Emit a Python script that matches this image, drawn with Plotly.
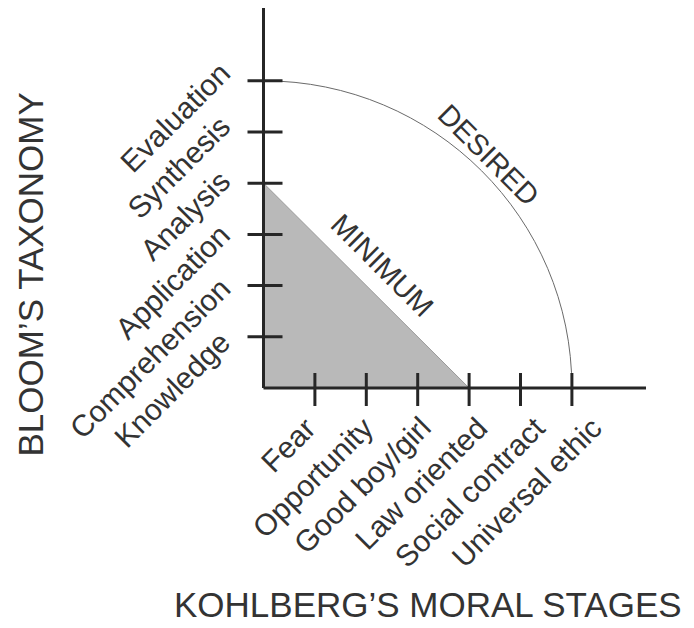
import plotly.graph_objects as go

# ---- data ----
kohlberg_stages = ["Fear", "Opportunity", "Good boy/girl", "Law oriented",
                   "Social contract", "Universal ethic"]
bloom_levels = ["Knowledge", "Comprehension", "Application", "Analysis",
                "Synthesis", "Evaluation"]
minimum_stage = 4   # Law oriented
minimum_level = 4   # Analysis
desired_stage = 6   # Universal ethic
desired_level = 6   # Evaluation
x_title = "KOHLBERG\u2019S MORAL STAGES"
y_title = "BLOOM\u2019S TAXONOMY"

# ---- styling ----
FONT = "Liberation Sans, Arial, sans-serif"
TXT = "#333333"
AXC = "#262626"
W, H = 694, 628
px_x, px_y = 51.4, 51.2         # pixels per unit
ox, oy = 263.5, 388.0           # origin in pixels
xr = [-ox / px_x, (W - ox) / px_x]
yr = [-(H - oy) / px_y, oy / px_y]
x_end = (646 - ox) / px_x
y_end = (oy - 8) / px_y

fig = go.Figure()

# minimum triangle
fig.add_trace(go.Scatter(
    x=[0, 0, minimum_stage, 0], y=[0, minimum_level, 0, 0],
    mode="lines", fill="toself", fillcolor="#b9b9b9",
    line=dict(color="#9a9a9a", width=1), hoverinfo="skip", showlegend=False))

shapes = []
# desired arc (quarter circle via cubic bezier)
k = 0.5523
a, b = desired_stage, desired_level
shapes.append(dict(type="path", xref="x", yref="y",
                   path=f"M 0,{b} C {a*k},{b} {a},{b*k} {a},0",
                   line=dict(color="#6a6a6a", width=1)))
# axes
shapes.append(dict(type="line", xref="x", yref="y", x0=0, y0=0, x1=x_end, y1=0,
                   line=dict(color=AXC, width=3)))
shapes.append(dict(type="line", xref="x", yref="y", x0=0, y0=0, x1=0, y1=y_end,
                   line=dict(color=AXC, width=3)))
# ticks
for i, _ in enumerate(kohlberg_stages):
    shapes.append(dict(type="line", xref="x", yref="y", x0=i + 1, x1=i + 1,
                       y0=-18 / px_y, y1=15 / px_y, line=dict(color=AXC, width=3)))
for i, _ in enumerate(bloom_levels):
    shapes.append(dict(type="line", xref="x", yref="y", y0=i + 1, y1=i + 1,
                       x0=-16 / px_x, x1=19 / px_x, line=dict(color=AXC, width=3)))

ann = []
for i, lab in enumerate(kohlberg_stages):
    ann.append(dict(x=i + 1, y=0, xref="x", yref="y", text=lab, showarrow=False,
                    textangle=-45, xanchor="right", yanchor="top",
                    xshift=10 + 5.7 * i, yshift=-20,
                    font=dict(family=FONT, size=30, color=TXT)))
for i, lab in enumerate(bloom_levels):
    ann.append(dict(x=0, y=i + 1, xref="x", yref="y", text=lab, showarrow=False,
                    textangle=-45, xanchor="right", yanchor="top",
                    xshift=-24.5, yshift=14 + 2.7 * i,
                    font=dict(family=FONT, size=30, color=TXT)))
ann.append(dict(x=2.3, y=2.4, xref="x", yref="y", text="MINIMUM", showarrow=False,
                textangle=45, xanchor="center", yanchor="middle",
                font=dict(family=FONT, size=29, color=TXT)))
ann.append(dict(x=4.38, y=4.55, xref="x", yref="y", text="DESIRED", showarrow=False,
                textangle=45, xanchor="center", yanchor="middle",
                font=dict(family=FONT, size=29, color=TXT)))
ann.append(dict(x=172 / W, y=1 - 604 / H, xref="paper", yref="paper", text=x_title,
                showarrow=False, xanchor="left", yanchor="middle",
                font=dict(family=FONT, size=35, color=TXT)))
ann.append(dict(x=30 / W, y=1 - 274.5 / H, xref="paper", yref="paper", text=y_title,
                showarrow=False, textangle=-90, xanchor="center", yanchor="middle",
                font=dict(family=FONT, size=35, color=TXT)))

fig.update_layout(
    width=W, height=H, margin=dict(l=0, r=0, t=0, b=0),
    paper_bgcolor="white", plot_bgcolor="white",
    xaxis=dict(range=xr, visible=False, fixedrange=True),
    yaxis=dict(range=yr, visible=False, fixedrange=True),
    shapes=shapes, annotations=ann, showlegend=False,
)
fig.write_html("out.html", config={"displayModeBar": False},
               post_script="document.body.style.margin='0';"
                           "document.body.style.overflow='hidden';")
